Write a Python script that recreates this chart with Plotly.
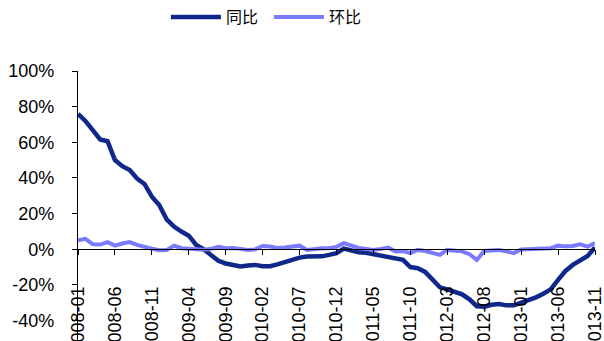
import pandas as pd
import plotly.graph_objects as go

# Monthly periods, 2008-01 .. 2013-11
months = [d.strftime("%Y-%m") for d in pd.date_range("2008-01-01", "2013-11-01", freq="MS")]

# Year-on-year change (%)
yoy = [76, 72, 66.8, 61.6, 60.6, 50, 46.6, 44.4, 39.7, 36.6,
       29.5, 24.8, 16.8, 12.7, 9.9, 7.6, 2.4, 0, -3.2, -6.5,
       -8, -9, -9.7, -9.2, -8.8, -9.5, -9.5, -8.5, -7.1, -5.7,
       -4.7, -4.1, -4.3, -4, -3.2, -2.2, 0.3, -1, -1.7, -2,
       -2.8, -3.6, -4.7, -5, -6, -10, -10.7, -12.7, -17, -21.4,
       -22.5, -23.6, -25.3, -28.1, -32, -32.3, -31.2, -30.8, -31.5, -31.5,
       -30, -28.7, -27, -25, -22.5, -17.2, -12.2, -8.8, -6, -3.8,
       1]

# Month-on-month change (%)
mom = [5, 5.8, 2.8, 2.6, 4, 2, 3.2, 4, 2.4, 1.2,
       0.3, -0.6, -0.5, 2, 0.6, 0.3, -0.2, -0.3, 0.2, 1.3,
       0.5, 0.7, 0.2, -0.4, -0.1, 1.8, 1.5, 0.7, 1, 1.3,
       2, -0.4, 0.2, 0.6, 0.6, 1.3, 3.4, 1.8, 0.7, 0.2,
       -0.4, 0.2, 0.9, -1.3, -1, -2.2, -0.4, -1, -2, -3.2,
       -0.4, -0.7, -1.2, -2.8, -6, -1, -0.7, -0.4, -1.2, -2.2,
       -0.1, 0.2, 0.2, 0.3, 0.6, 2, 1.6, 1.8, 2.8, 1.5,
       3.4]

tick_months = months[::5]
y_ticks = [-40, -20, 0, 20, 40, 60, 80, 100]
y_range = [-51.5, 100]

axis_font = dict(family="Liberation Sans, Arial, sans-serif", size=18, color="#000000")

fig = go.Figure()
fig.add_trace(go.Scatter(x=months, y=yoy, mode="lines", name="同比",
                         line=dict(color="#10288C", width=4.5)))
fig.add_trace(go.Scatter(x=months, y=mom, mode="lines", name="环比",
                         line=dict(color="#7B7BFF", width=4)))

zero_pos = (0 - y_range[0]) / (y_range[1] - y_range[0])

fig.update_layout(
    width=604, height=341,
    margin=dict(l=78, r=9, t=71, b=0),
    paper_bgcolor="white", plot_bgcolor="white",
    showlegend=True,
    legend=dict(orientation="h", x=0.17, xanchor="left", y=1.2, yanchor="middle",
                itemwidth=50, entrywidth=38, entrywidthmode="pixels",
                font=dict(family="Noto Sans CJK SC, sans-serif", size=16, color="#000000"),
                bgcolor="rgba(0,0,0,0)"),
    xaxis=dict(type="category", range=[0, len(months) - 1],
               tickmode="array", tickvals=tick_months, ticktext=tick_months,
               tickangle=-90, tickfont=axis_font,
               showline=True, linecolor="#000000", linewidth=1.3,
               ticks="outside", ticklen=5, tickcolor="#000000", tickwidth=1.3,
               ticklabelstandoff=24,
               showgrid=False, zeroline=False,
               anchor="free", position=zero_pos, automargin=False),
    yaxis=dict(range=y_range, tickmode="array", tickvals=y_ticks,
               ticktext=[f"{v}%" for v in y_ticks], tickfont=axis_font,
               showline=True, linecolor="#000000", linewidth=1.3,
               ticks="outside", ticklen=5, tickcolor="#000000", tickwidth=1.3,
               ticklabelstandoff=14,
               showgrid=False, zeroline=False, automargin=False),
)

fig.write_html("out.html")
